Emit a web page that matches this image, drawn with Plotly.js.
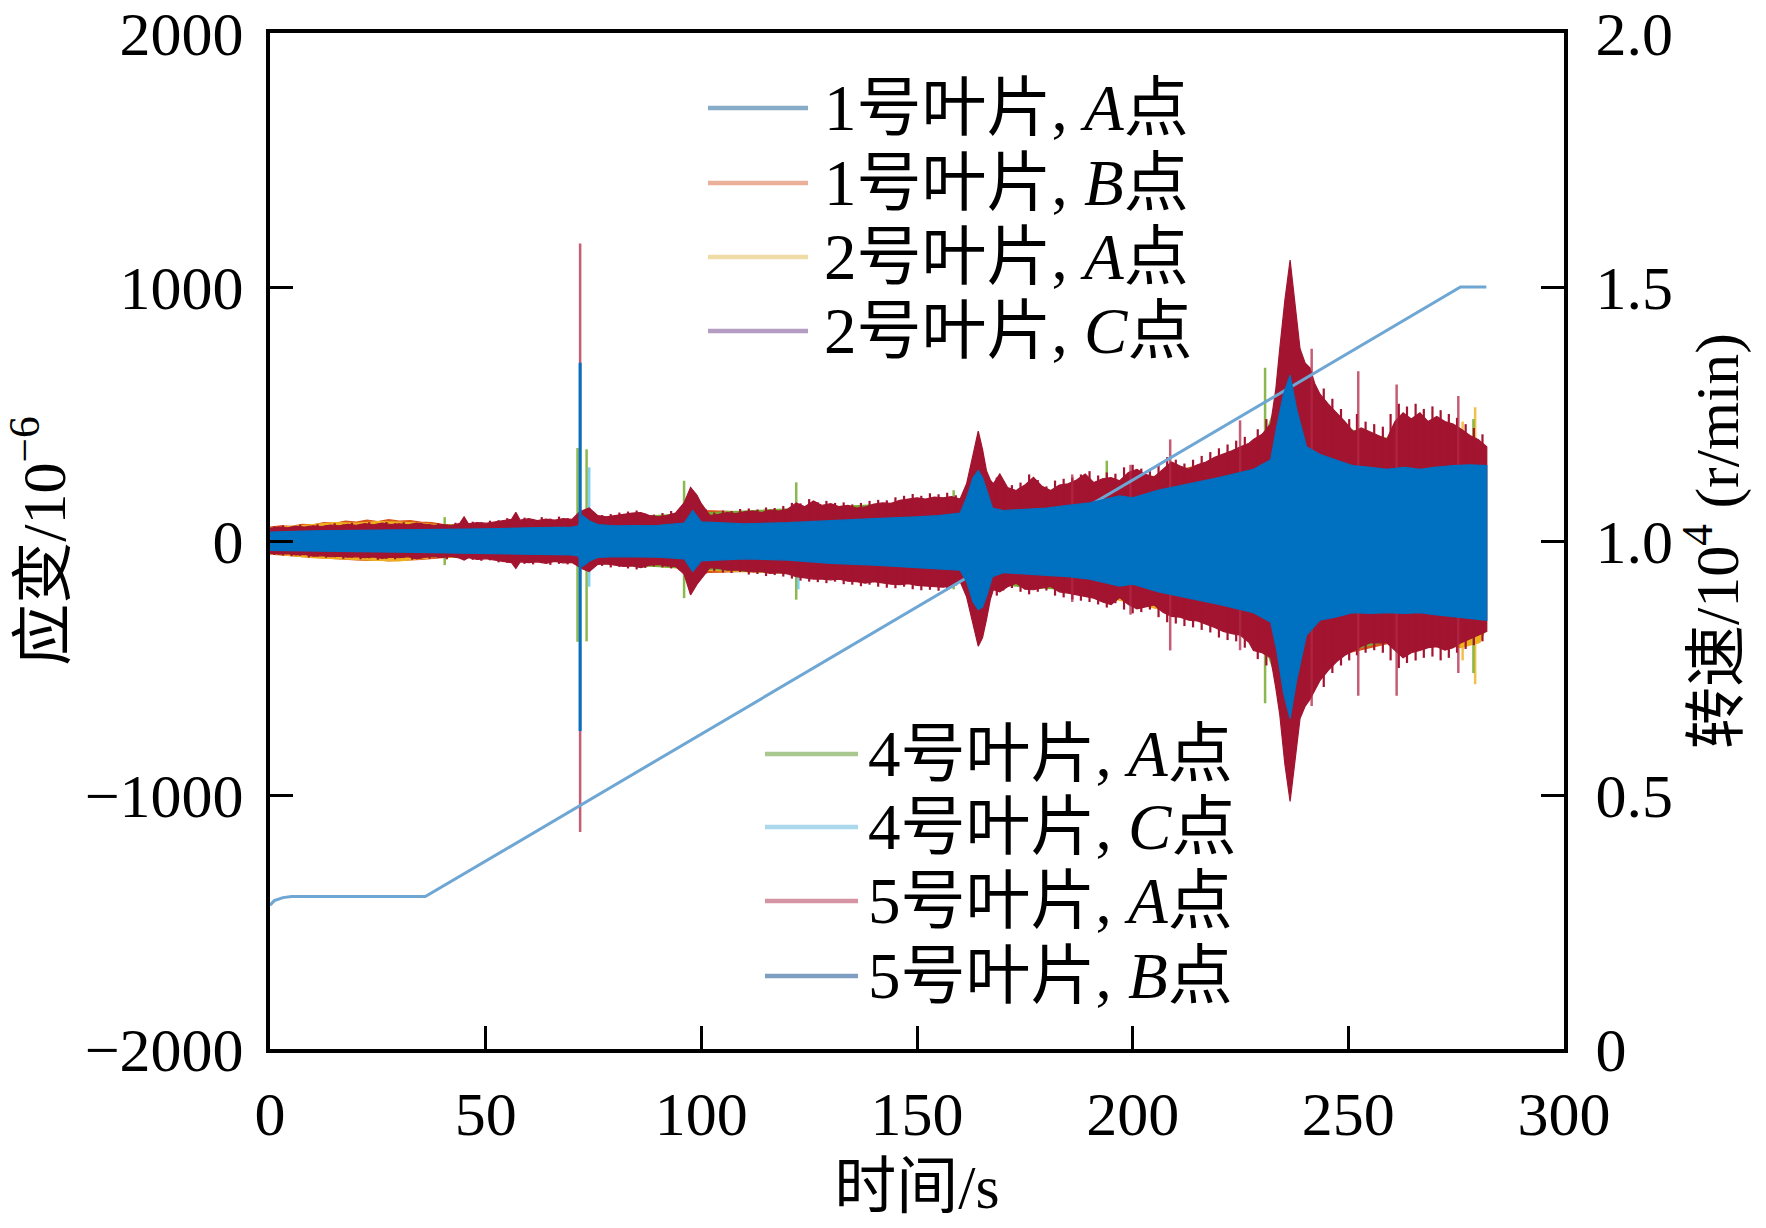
<!DOCTYPE html>
<html><head><meta charset="utf-8">
<script src="https://cdn.plot.ly/plotly-3.0.1.min.js"></script>
<style>html,body{margin:0;padding:0;background:#fff}</style>
</head><body>
<div id="chart" style="width:1766px;height:1228px"></div>
<script>
// ---------------- data ----------------
const BLADE = ['1','1','2','2','4','4','5','5'];
const POINT = ['A','B','A','C','A','C','A','B'];
const X_TICKS = [0,50,100,150,200,250,300];
const Y_TICKS = [-2000,-1000,0,1000,2000];
const Y_TICK_TEXT = ['\u22122000','\u22121000','0','1000','2000'];
const Y2_TICKS = [0,0.5,1,1.5,2];
const Y2_TICK_TEXT = ['0','0.5','1.0','1.5','2.0'];

// rotational speed, 10^4 r/min
const SPEED_T = [0,1,3,5,36,276,282];
const SPEED_V = [0.283,0.292,0.298,0.30,0.30,1.50,1.50];

// 1号叶片 A点 (envelope, mostly hidden)
const T_1A = [0,100,200,282];
const U_1A = [35,80,170,280];
const L_1A = [-35,-80,-170,-280];

// 1号叶片 B点
const T_1B = [0,2.5,5,7.5,10,12.5,15,17.5,20,22.5,25,27.5,30,32.5,35,37.5,40,42.5,45,50,55,60,70,80,90,100,120,140,160,180,200,220,240,260,282];
const U_1B = [55,60,58,66,64,72,70,78,74,82,76,84,78,80,74,72,66,64,62,64,68,74,80,88,90,120,110,140,150,190,230,320,500,380,330];
const L_1B = [-52,-56,-58,-62,-64,-68,-70,-72,-74,-76,-74,-78,-76,-74,-72,-70,-66,-64,-64,-66,-70,-74,-78,-85,-88,-125,-115,-145,-150,-175,-240,-330,-480,-400,-330];

// 2号叶片 A点
const T_2A = [0,5,10,15,20,25,30,35,40,50,60,80,100,140,180,220,240,260,270,276,278,280.5,282];
const U_2A = [50,58,66,72,70,76,74,70,62,62,70,85,110,130,180,300,450,360,400,430,400,380,330];
const L_2A = [-50,-58,-66,-70,-72,-76,-78,-70,-62,-64,-72,-84,-115,-140,-170,-320,-450,-380,-400,-420,-410,-400,-340];
const SPK_2A_T = [276.5,279.4];
const SPK_2A_TOP = [470,527];
const SPK_2A_BOT = [-470,-564];

// 2号叶片 C点
const T_2C = [0,100,200,282];
const U_2C = [40,90,170,260];
const L_2C = [-40,-90,-170,-260];

// 4号叶片 A点
const T_4A = [0,50,100,150,200,230,236.5,245,260,282];
const U_4A = [45,65,110,150,210,380,700,460,400,340];
const L_4A = [-45,-65,-110,-150,-210,-380,-700,-450,-390,-330];
const SPK_4A_T = [40.5,71.3,73.4,96,122,158.5,194,230.7,279.0];
const SPK_4A_TOP = [94,366,361,237,231,200,316,682,480];
const SPK_4A_BOT = [-95,-397,-395,-225,-231,-190,-230,-639,-520];

// 4号叶片 C点
const T_4C = [0,100,200,282];
const U_4C = [40,90,180,280];
const L_4C = [-40,-90,-180,-280];
const SPK_4C_T = [74,122.5];
const SPK_4C_TOP = [290,140];
const SPK_4C_BOT = [-180,-190];

// 5号叶片 A点
const T_5A = [0,2,4,6,8,10,12,14,16,18,20,22,24,26,28,30,32,34,36,38,40,42,44,
  45,46,48,50,52,54,56,57,58,60,62,64,66,68,70,71.5,72.5,
  74,76,78,80,82,84,86,88,90,92,94,96,97.5,99,100,102,
  104,106,108,110,112,114,116,118,120,122,124,126,128,130,132,134,136,138,140,142,144,146,148,150,152,154,156,158,160,
  161.5,163,164.2,165.2,166.1,167,167.7,169.2,171,173,175,177,179,181,183,185,187,189,191,193,195,197,199,
  201,203,205,207,209,211,213,215,217,219,221,223,225,227,228,230,232,
  233.2,234.1,235.3,236.5,237.6,238.8,240,241.1,242.2,243.4,245.3,247.3,249.2,251.2,
  253,255,257,258.9,260.8,262.7,264.6,266.6,268.5,270.5,272.4,274.3,276.2,278.2,280.1,282.1];
const U_5A = [50,55,52,58,55,60,57,63,60,66,62,68,64,70,65,68,64,70,66,62,65,60,70,
  95,68,72,70,75,78,85,113,82,88,80,86,82,88,85,110,120,
  130,100,95,100,105,110,112,100,95,100,110,150,211,180,147,100,
  105,112,108,115,118,112,122,118,125,150,135,158,140,147,135,140,130,134,145,150,148,160,165,170,165,173,170,175,165,
  225,340,433,360,277,240,225,264,210,199,220,251,215,199,220,225,240,264,230,245,250,237,270,
  282,262,252,280,311,295,282,300,311,330,341,355,371,385,400,420,460,
  600,757,950,1106,950,757,700,682,620,579,540,505,470,430,
  445,430,415,400,470,505,480,505,470,490,470,460,440,415,400,371];
const L_5A = [-48,-52,-50,-55,-53,-60,-58,-62,-60,-64,-62,-66,-63,-68,-64,-66,-62,-70,-64,-62,-65,-60,-68,
  -75,-66,-72,-70,-75,-80,-85,-108,-82,-85,-82,-88,-80,-86,-85,-100,-110,
  -120,-92,-90,-95,-100,-98,-105,-95,-92,-98,-100,-130,-212,-170,-150,-105,
  -108,-115,-114,-118,-122,-120,-128,-125,-130,-140,-145,-150,-150,-153,-150,-158,-160,-166,-160,-165,-170,-172,-168,-175,-178,-180,-182,-178,-160,
  -220,-330,-414,-380,-310,-230,-192,-200,-180,-166,-190,-192,-185,-179,-200,-205,-210,-218,-225,-240,-250,-223,-250,
  -267,-260,-252,-280,-297,-300,-312,-315,-327,-340,-356,-365,-371,-400,-431,-440,-460,
  -580,-683,-880,-1025,-870,-699,-650,-624,-590,-550,-510,-475,-450,-431,
  -415,-401,-400,-401,-430,-460,-440,-431,-420,-416,-430,-420,-400,-386,-370,-356];
// isolated outlier strokes of 5A
const SPK_5A_T = [71.9,186,199.5,208.7,224.9,241.5,252.3,261.2,275.5];
const SPK_5A_TOP = [1171,262,300,400,475,757,668,616,571];
const SPK_5A_BOT = [-1146,-240,-290,-431,-430,-650,-609,-609,-520];
// hairy edge strokes of 5A (peak excursions between envelope samples)
const HAIR_5A_T = [1,3,5,7,9,11,13,15,17,19,21,23,25,27,29,31,33,35,37,39,41,43,47,49,51,53,55,59,61,63,65,67,69,
  75,77,79,81,83,85,87,89,91,93,95,101,103,105,107,109,111,113,115,117,119,121,123,125,127,129,131,133,135,137,139,
  141,143,145,147,149,151,153,155,157,159,168.5,170,172,174,176,178,180,182,184,186,188,190,192,194,196,198,200,
  202,204,206,208,210,212,214,216,218,220,222,224,226,229,231,244.3,246.3,248.3,250.2,252,254,256,258,259.8,261.7,
  263.6,265.6,267.5,269.5,271.4,273.3,275.2,277.2,279.1,281.1];
const HAIR_5A_TOP = [58,62,57,64,60,66,62,70,65,72,66,74,68,75,70,74,68,72,66,70,64,72,76,74,80,82,90,92,86,94,88,96,90,
  108,102,106,112,116,120,108,104,110,118,125,125,112,120,118,126,128,124,132,130,138,150,148,165,152,158,150,152,144,150,158,
  162,160,172,178,185,178,188,184,190,180,250,235,220,230,262,240,215,238,245,250,262,275,258,270,265,290,300,
  285,275,300,330,320,305,320,335,350,365,380,395,410,440,480,600,560,520,480,500,470,460,450,500,540,
  530,540,520,530,515,500,485,460,445,420];
const HAIR_5A_BOT = [-55,-57,-60,-58,-65,-62,-66,-64,-70,-66,-72,-68,-74,-70,-72,-66,-74,-68,-70,-66,-72,-64,-74,-78,-76,-84,-86,-90,-92,-86,-94,-90,-92,
  -100,-98,-104,-102,-108,-112,-106,-100,-104,-108,-115,-128,-118,-124,-126,-122,-132,-130,-138,-134,-140,-148,-156,-160,-162,-166,-160,-170,-172,-178,-172,
  -180,-184,-186,-180,-190,-194,-192,-196,-190,-175,-215,-195,-185,-200,-210,-200,-195,-215,-222,-230,-235,-240,-250,-262,-245,-270,-285,
  -280,-270,-300,-320,-325,-335,-340,-350,-360,-380,-390,-395,-420,-465,-490,-575,-520,-490,-470,-450,-440,-430,-440,-470,-500,
  -480,-470,-460,-455,-470,-460,-440,-425,-410,-395];

// 5号叶片 B点
const T_5B = [0,10,20,30,40,50,60,70,71.5,72.5,74,76,80,90,96,98,100,110,120,130,140,150,155,160,
  161.5,163,164.2,165.2,166.1,167.5,170,175,180,185,190,197,200,206,212.5,220,228,232,233.4,235,236.5,
  238,240.3,243.4,247,251,255,259,263,266.6,270,274.3,278,282.1];
const U_5B = [35,40,42,44,45,48,52,55,60,100,80,65,60,62,70,120,75,68,72,81,88,95,100,110,
  170,250,277,250,200,130,120,125,130,140,150,178,170,200,222,250,282,320,450,580,653,
  520,371,341,320,297,290,282,290,282,290,297,300,297];
const L_5B = [-37,-40,-42,-44,-45,-48,-52,-55,-60,-100,-80,-65,-62,-64,-70,-120,-78,-70,-75,-88,-95,-105,-110,-115,
  -160,-240,-270,-260,-220,-140,-125,-130,-135,-140,-150,-178,-170,-200,-223,-250,-282,-320,-430,-600,-699,
  -550,-371,-312,-300,-282,-285,-282,-285,-282,-290,-297,-305,-312];
const SPK_5B_T = [71.9];
const SPK_5B_TOP = [702];
const SPK_5B_BOT = [-748];

// ---------------- styling ----------------
const DATA_COLORS = ['#0072BD','#D95319','#EDB120','#7E2F8E','#77AC30','#4DBEEE','#A2142F','#0070C0'];
const LEGEND_COLORS = ['#86acc8','#eab09a','#f0dca6','#b49cc2','#a8c890','#acd8ee','#d494a4','#7e9ec2'];
const SPEED_COLOR = '#6ea6d4';
const SERIF = 'Liberation Serif, Times New Roman, Noto Sans CJK SC, serif';

function label(i){ return BLADE[i] + '号叶片, <i>' + POINT[i] + '</i>点'; }

function band(i, t, up, lo, yaxis){
  return {type:'scatter', mode:'lines', name: BLADE[i]+'号叶片, '+POINT[i]+'点',
    x: t.concat(t.slice().reverse()), y: up.concat(lo.slice().reverse()),
    fill:'toself', fillcolor: DATA_COLORS[i], line:{color: DATA_COLORS[i], width:1.2},
    yaxis: yaxis || 'y', showlegend:false, hoverinfo:'skip'};
}
function strokes(i, t, top, bot, yaxis, width, color){
  const x=[], y=[];
  t.forEach((v,k)=>{ x.push(v,v,null); y.push(bot[k],top[k],null); });
  return {type:'scatter', mode:'lines', x, y, line:{color: color || DATA_COLORS[i], width: width || 3},
    yaxis: yaxis || 'y', showlegend:false, hoverinfo:'skip', connectgaps:false};
}

const traces = [
  band(0, T_1A, U_1A, L_1A),
  band(1, T_1B, U_1B, L_1B),
  band(2, T_2A, U_2A, L_2A),
  strokes(2, SPK_2A_T, SPK_2A_TOP, SPK_2A_BOT, 'y', 2.5, 'rgba(237,177,32,0.8)'),
  band(3, T_2C, U_2C, L_2C),
  band(4, T_4A, U_4A, L_4A),
  strokes(4, SPK_4A_T, SPK_4A_TOP, SPK_4A_BOT, 'y', 2.5, 'rgba(119,172,48,0.85)'),
  band(5, T_4C, U_4C, L_4C),
  strokes(5, SPK_4C_T, SPK_4C_TOP, SPK_4C_BOT, 'y', 2.5, 'rgba(77,190,238,0.7)'),
  band(6, T_5A, U_5A, L_5A),
  strokes(6, HAIR_5A_T, HAIR_5A_TOP, HAIR_5A_BOT, 'y', 2.2),
  strokes(6, SPK_5A_T, SPK_5A_TOP, SPK_5A_BOT, 'y', 2.5, 'rgba(178,40,70,0.75)'),
  {type:'scatter', mode:'lines', name:'转速', x: SPEED_T, y: SPEED_V, yaxis:'y2',
   line:{color: SPEED_COLOR, width:3}, showlegend:false, hoverinfo:'skip'},
  band(7, T_5B, U_5B, L_5B, 'y3'),
  strokes(7, SPK_5B_T, SPK_5B_TOP, SPK_5B_BOT, 'y3', 3)
];

// ---------------- layout ----------------
const L = 270, R = 1564, T = 33, B = 1049;
const W = 1766, H = 1228;
const px = v => (v - L) / (R - L);
const py = v => (B - v) / (B - T);

const tickFont = {family: SERIF, size: 62, color: '#000'};
const titleFont = {family: SERIF, size: 62, color: '#000'};
const axBase = {ticks:'inside', ticklen:23, tickwidth:3, tickcolor:'#000',
  showline:true, linewidth:4, linecolor:'#000', showgrid:false, zeroline:false,
  tickfont: tickFont, fixedrange:true, ticklabeloverflow:'allow'};

const legendRows = [
  {i:0, y:108, x0:708, x1:808, tx:822},
  {i:1, y:183, x0:708, x1:808, tx:822},
  {i:2, y:257, x0:708, x1:808, tx:822},
  {i:3, y:331, x0:708, x1:808, tx:822},
  {i:4, y:754, x0:765, x1:858, tx:866},
  {i:5, y:827, x0:765, x1:858, tx:866},
  {i:6, y:901, x0:765, x1:858, tx:866},
  {i:7, y:976, x0:765, x1:858, tx:866}
];
const shapes = legendRows.map(r => ({type:'line', xref:'paper', yref:'paper',
  x0: px(r.x0), x1: px(r.x1), y0: py(r.y), y1: py(r.y),
  line:{color: LEGEND_COLORS[r.i], width:4.5}}));
const annotations = legendRows.map(r => ({xref:'paper', yref:'paper', x: px(r.tx), y: py(r.y),
  xanchor:'left', yanchor:'middle', showarrow:false, text: label(r.i),
  font:{family: SERIF, size: 65, color:'#000'}}));

const layout = {
  width: W, height: H,
  margin:{l: L, r: W - R, t: T, b: H - B, pad:0},
  paper_bgcolor:'#fff', plot_bgcolor:'#fff',
  showlegend:false,
  xaxis: Object.assign({}, axBase, {range:[0,300], tickvals: X_TICKS, mirror:true,
    ticklabelstandoff: 8,
    title:{text:'时间/s', font: titleFont, standoff: 18}}),
  yaxis: Object.assign({}, axBase, {range:[-2000,2000], tickvals: Y_TICKS, ticktext: Y_TICK_TEXT,
    ticklabelstandoff: 10,
    title:{text:'应变/10<sup>\u22126</sup>', font: titleFont, standoff: 12}}),
  yaxis2: Object.assign({}, axBase, {range:[0,2], tickvals: Y2_TICKS, ticktext: Y2_TICK_TEXT,
    overlaying:'y', side:'right', ticklabelstandoff: 15,
    title:{text:'转速/10<sup>4</sup> (r/min)', font: titleFont, standoff: 20}}),
  yaxis3: {range:[-2000,2000], overlaying:'y', visible:false, fixedrange:true},
  shapes, annotations
};

Plotly.newPlot('chart', traces, layout, {displayModeBar:false, staticPlot:true});
</script>
</body></html>
